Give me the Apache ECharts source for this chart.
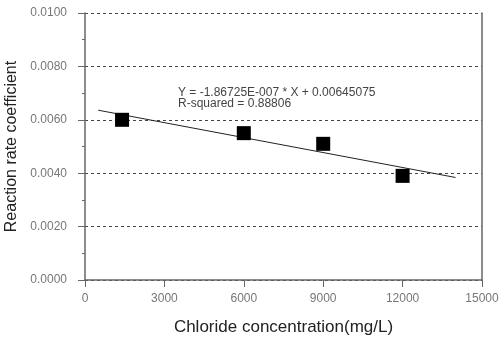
<!DOCTYPE html>
<html><head><meta charset="utf-8">
<script src="https://cdn.jsdelivr.net/npm/echarts@6/dist/echarts.min.js"></script>
<style>html,body{margin:0;padding:0;background:#fff}#c{width:499px;height:340px}</style>
</head><body><div id="c"></div>
<script>
var pointsX = [1400, 6000, 9000, 12000];
var pointsY = [0.0060, 0.0055, 0.0051, 0.0039];
var fitX = [500, 14000];
var fitY = [0.00636, 0.00384];
var eqText = 'Y = -1.86725E-007 * X + 0.00645075';
var r2Text = 'R-squared = 0.88806';
var xTitle = 'Chloride concentration(mg/L)';
var yTitle = 'Reaction rate coefficient';

var chart = echarts.init(document.getElementById('c'));
var font = 'Liberation Sans, Arial, sans-serif';
chart.setOption({
  animation: false,
  grid: {left: 85, right: 17, top: 13, bottom: 60, containLabel: false, outerBoundsMode: 'none'},
  xAxis: {
    type: 'value', min: 0, max: 15000, interval: 3000,
    name: xTitle, nameLocation: 'middle', nameGap: 39,
    nameTextStyle: {fontFamily: font, fontSize: 17, color: '#222'},
    axisLine: {lineStyle: {color: '#666', width: 1.5}},
    axisTick: {length: 7, lineStyle: {color: '#666'}},
    axisLabel: {fontFamily: font, fontSize: 12, color: '#777', margin: 13,
      formatter: function(v){return String(v);}},
    splitLine: {show: false}
  },
  yAxis: [{
    type: 'value', min: 0, max: 0.01, interval: 0.002,
    name: yTitle, nameLocation: 'middle', nameGap: 57,
    nameTextStyle: {fontFamily: font, fontSize: 16, color: '#222'},
    axisLine: {show: true, lineStyle: {color: '#666', width: 1.5}},
    axisTick: {show: true, length: 7, lineStyle: {color: '#666'}},
    minorTick: {show: true, splitNumber: 2, length: 3, lineStyle: {color: '#666'}},
    axisLabel: {fontFamily: font, fontSize: 12, color: '#777', margin: 18,
      formatter: function(v){return v.toFixed(4);}},
    splitLine: {show: true, lineStyle: {color: '#444', type: [3, 3], width: 1}}
  }, {
    type: 'value', min: 0, max: 0.01, interval: 0.002, position: 'right',
    axisLine: {show: true, lineStyle: {color: '#666', width: 1.5}},
    axisTick: {show: false}, axisLabel: {show: false}, splitLine: {show: false}
  }],
  series: [{
    type: 'line',
    data: fitX.map(function(x, i){return [x, fitY[i]];}),
    symbol: 'none',
    lineStyle: {color: '#222', width: 1},
    z: 2
  }, {
    type: 'scatter',
    data: pointsX.map(function(x, i){return [x, pointsY[i]];}),
    symbol: 'rect', symbolSize: 14,
    itemStyle: {color: '#000', opacity: 1},
    z: 3
  }],
  graphic: [{
    type: 'text', left: 178, top: 87,
    style: {text: eqText + '\n' + r2Text, fontFamily: font, fontSize: 12, fill: '#444', lineHeight: 11}
  }]
});
</script></body></html>
